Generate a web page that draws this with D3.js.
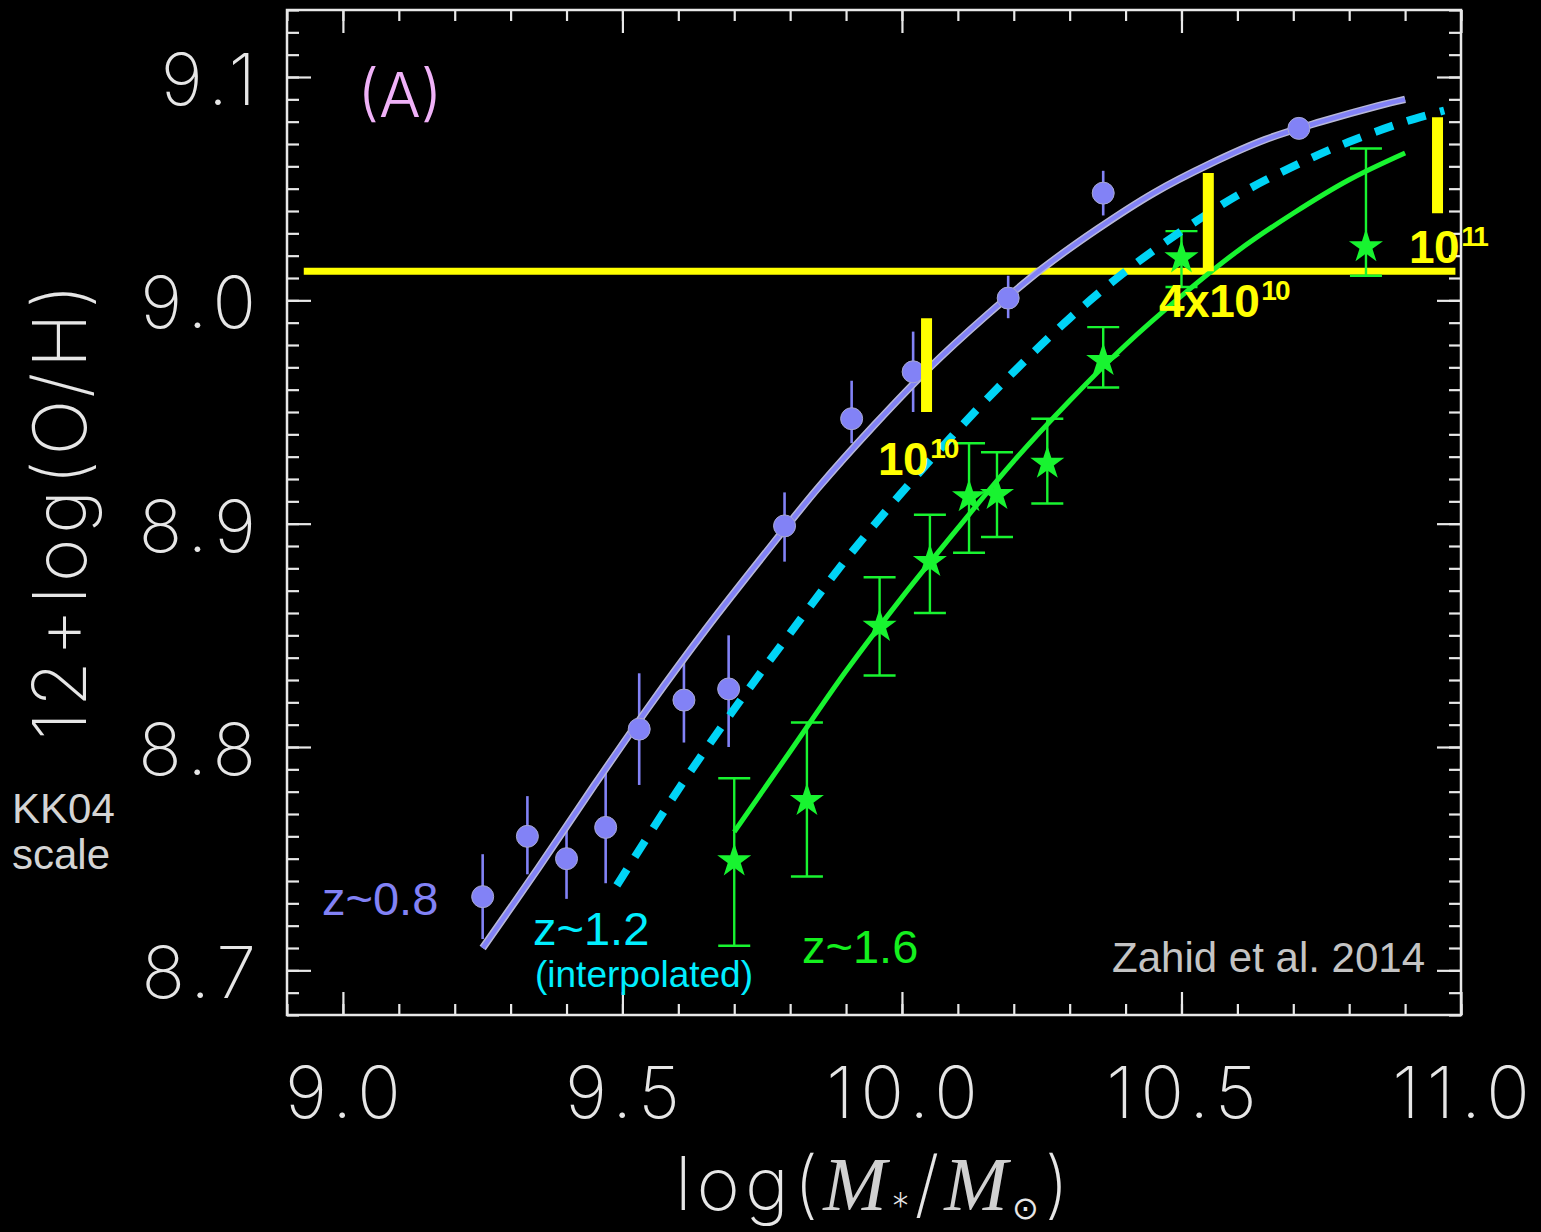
<!DOCTYPE html>
<html>
<head>
<meta charset="utf-8">
<script src="https://cdn.jsdelivr.net/npm/d3@7"></script>
<style>
  html, body { margin: 0; padding: 0; background: #000; }
  svg { display: block; }
  .thin { font-family: "Inter", "DejaVu Sans", sans-serif; font-weight: 200; fill: #e6e6e6; }
  .arial { font-family: "Liberation Sans", Arial, sans-serif; }
</style>
</head>
<body>
<svg id="chart" width="1541" height="1232"></svg>
<script>
// ---- z~0.8 binned measurements (DEEP2) ----
const massZ08 = [9.25, 9.33, 9.40, 9.47, 9.53, 9.61, 9.69, 9.79, 9.91, 10.02, 10.19, 10.36, 10.71];
const ohZ08   = [8.733, 8.760, 8.750, 8.764, 8.808, 8.821, 8.826, 8.899, 8.947, 8.968, 9.001, 9.048, 9.077];
const ohZ08Lo = [8.714, 8.743, 8.732, 8.739, 8.783, 8.802, 8.800, 8.883, 8.936, 8.950, 8.992, 9.038, 9.073];
const ohZ08Hi = [8.752, 8.778, 8.763, 8.789, 8.833, 8.838, 8.850, 8.914, 8.964, 8.986, 9.011, 9.058, 9.081];

// ---- z~1.6 binned measurements (FMOS) ----
const massZ16 = [9.70, 9.83, 9.96, 10.05, 10.12, 10.17, 10.26, 10.36, 10.50, 10.83];
const ohZ16   = [8.749, 8.776, 8.854, 8.883, 8.912, 8.913, 8.927, 8.973, 9.019, 9.024];
const ohZ16Lo = [8.711, 8.742, 8.832, 8.860, 8.887, 8.894, 8.909, 8.961, 9.006, 9.011];
const ohZ16Hi = [8.786, 8.811, 8.876, 8.904, 8.936, 8.932, 8.947, 8.988, 9.031, 9.068];

// ---- fitted mass-metallicity relations ----
const fitMassZ08 = [9.25, 9.35, 9.45, 9.55, 9.65, 9.75, 9.85, 9.95, 10.05, 10.15, 10.25, 10.35, 10.45, 10.55, 10.65, 10.75, 10.85, 10.90];
const fitOHZ08   = [8.710, 8.746, 8.783, 8.819, 8.853, 8.885, 8.916, 8.944, 8.970, 8.993, 9.014, 9.032, 9.048, 9.061, 9.072, 9.080, 9.087, 9.090];

const fitMassZ12 = [9.49, 9.60, 9.70, 9.80, 9.90, 10.00, 10.10, 10.20, 10.30, 10.40, 10.50, 10.60, 10.70, 10.80, 10.90, 10.97];
const fitOHZ12   = [8.738, 8.781, 8.817, 8.851, 8.884, 8.914, 8.942, 8.968, 8.992, 9.013, 9.031, 9.047, 9.060, 9.071, 9.080, 9.085];

const fitMassZ16 = [9.70, 9.80, 9.90, 10.00, 10.10, 10.20, 10.30, 10.40, 10.50, 10.60, 10.70, 10.80, 10.90];
const fitOHZ16   = [8.762, 8.798, 8.834, 8.867, 8.898, 8.928, 8.955, 8.980, 9.002, 9.022, 9.039, 9.054, 9.066];

// ---- reference level and mass markers ----
const threshold = 9.013;
const thresholdMass = [8.93, 10.99];
const markerMass = [10.044, 10.548, 10.958];
const markerLo   = [8.950, 9.013, 9.039];
const markerHi   = [8.992, 9.057, 9.082];
const markerBase = ["10", "4x10", "10"];
const markerExp  = ["10", "10", "11"];

// ---- axis ticks ----
const xMajor = [9.0, 9.5, 10.0, 10.5, 11.0];
const xMinor = d3.range(89, 111).map(v => v / 10);
const xTickLabels = ["9.0", "9.5", "10.0", "10.5", "11.0"];
const yMajor = [8.7, 8.8, 8.9, 9.0, 9.1];
const yMinor = d3.range(868, 914).map(v => v / 100);
const yTickLabels = ["8.7", "8.8", "8.9", "9.0", "9.1"];

// ---- colours ----
const C_Z08 = "#8282f6";
const C_Z12 = "#00d4f6";
const C_Z16 = "#18f430";
const C_YEL = "#ffff00";

const svg = d3.select("#chart");
svg.append("rect").attr("width", 1541).attr("height", 1232).attr("fill", "#000");

const L = 287, R = 1461, T = 10, B = 1015;
const x = d3.scaleLinear().domain([8.9, 11.0]).range([L, R]);
const y = d3.scaleLinear().domain([8.68, 9.13]).range([B, T]);

// ---- axes: inward ticks on all four sides ----
const axisColor = "#e8e8e8";
function styleAxis(g) {
  g.select(".domain").remove();
  g.selectAll(".tick line").attr("stroke", axisColor).attr("stroke-width", 2.2);
}
const fmtX = d => xTickLabels[xMajor.indexOf(d)];
const fmtY = d => yTickLabels[yMajor.indexOf(d)];

svg.append("g").attr("transform", `translate(0,${B})`)
  .call(d3.axisBottom(x).tickValues(xMinor).tickSize(-11).tickFormat(""))
  .call(styleAxis);
const gxb = svg.append("g").attr("transform", `translate(0,${B})`)
  .call(d3.axisBottom(x).tickValues(xMajor).tickSize(-23).tickPadding(52).tickFormat(fmtX))
  .call(styleAxis);
gxb.selectAll("text").attr("class", "thin").attr("font-size", 72)
  .attr("dx", 3).style("letter-spacing", "7px");

svg.append("g").attr("transform", `translate(0,${T})`)
  .call(d3.axisTop(x).tickValues(xMinor).tickSize(-11).tickFormat("")).call(styleAxis);
svg.append("g").attr("transform", `translate(0,${T})`)
  .call(d3.axisTop(x).tickValues(xMajor).tickSize(-23).tickFormat("")).call(styleAxis);

svg.append("g").attr("transform", `translate(${L},0)`)
  .call(d3.axisLeft(y).tickValues(yMinor).tickSize(-12).tickFormat("")).call(styleAxis);
const gyl = svg.append("g").attr("transform", `translate(${L},0)`)
  .call(d3.axisLeft(y).tickValues(yMajor).tickSize(-24).tickPadding(24).tickFormat(fmtY))
  .call(styleAxis);
gyl.selectAll("text").attr("class", "thin").attr("font-size", 72)
  .attr("dy", "0.38em").style("letter-spacing", "7px");

svg.append("g").attr("transform", `translate(${R},0)`)
  .call(d3.axisRight(y).tickValues(yMinor).tickSize(-12).tickFormat("")).call(styleAxis);
svg.append("g").attr("transform", `translate(${R},0)`)
  .call(d3.axisRight(y).tickValues(yMajor).tickSize(-24).tickFormat("")).call(styleAxis);

svg.append("rect").attr("x", L).attr("y", T).attr("width", R - L).attr("height", B - T)
  .attr("fill", "none").attr("stroke", axisColor).attr("stroke-width", 2.5);

// ---- axis titles ----
svg.append("text").attr("class", "thin")
  .attr("transform", "translate(86,512) rotate(-90)")
  .attr("text-anchor", "middle").attr("font-size", 74)
  .attr("textLength", 456).attr("lengthAdjust", "spacing")
  .text("12+log(O/H)");

const serif = "'Liberation Serif', 'DejaVu Serif', serif";
const xt = svg.append("text").attr("class", "thin")
  .attr("x", 872).attr("y", 1210).attr("text-anchor", "middle").attr("font-size", 74)
  .attr("textLength", 394).attr("lengthAdjust", "spacing");
xt.append("tspan").text("log(");
xt.append("tspan").attr("font-family", serif).attr("font-style", "italic")
  .attr("font-size", 76).style("fill", "#d0d0d0").text("M");
xt.append("tspan").attr("font-size", 36).attr("dy", 9).text("*");
xt.append("tspan").attr("dy", -9).text("/");
xt.append("tspan").attr("font-family", serif).attr("font-style", "italic")
  .attr("font-size", 76).style("fill", "#d0d0d0").text("M");
xt.append("tspan").attr("font-size", 32).attr("dy", 9)
  .attr("font-family", "'DejaVu Sans', sans-serif").text("\u2299");
xt.append("tspan").attr("dy", -9).text(")");

// ---- yellow reference level ----
svg.append("line")
  .attr("x1", x(thresholdMass[0])).attr("x2", x(thresholdMass[1]))
  .attr("y1", y(threshold)).attr("y2", y(threshold))
  .attr("stroke", C_YEL).attr("stroke-width", 7);

// ---- error bars ----
const gErr08 = svg.append("g");
massZ08.forEach((m, i) => {
  gErr08.append("line").attr("x1", x(m)).attr("x2", x(m))
    .attr("y1", y(ohZ08Lo[i])).attr("y2", y(ohZ08Hi[i]))
    .attr("stroke", C_Z08).attr("stroke-width", 2.6);
});
const gErr16 = svg.append("g");
const capW = 16;
massZ16.forEach((m, i) => {
  const cx = x(m), y0 = y(ohZ16Lo[i]), y1 = y(ohZ16Hi[i]);
  gErr16.append("line").attr("x1", cx).attr("x2", cx).attr("y1", y0).attr("y2", y1)
    .attr("stroke", C_Z16).attr("stroke-width", 2.4);
  [y0, y1].forEach(yy => gErr16.append("line")
    .attr("x1", cx - capW).attr("x2", cx + capW).attr("y1", yy).attr("y2", yy)
    .attr("stroke", C_Z16).attr("stroke-width", 2.4));
});

// ---- fitted curves ----
const line = d3.line().x(d => x(d[0])).y(d => y(d[1])).curve(d3.curveCatmullRom);
svg.append("path").datum(d3.zip(fitMassZ08, fitOHZ08)).attr("d", line)
  .attr("fill", "none").attr("stroke", "#b8b8d8").attr("stroke-width", 7.5);
svg.append("path").datum(d3.zip(fitMassZ08, fitOHZ08)).attr("d", line)
  .attr("fill", "none").attr("stroke", C_Z08).attr("stroke-width", 4.5);
svg.append("path").datum(d3.zip(fitMassZ12, fitOHZ12)).attr("d", line)
  .attr("fill", "none").attr("stroke", C_Z12).attr("stroke-width", 8)
  .attr("stroke-dasharray", "19 15");
svg.append("path").datum(d3.zip(fitMassZ16, fitOHZ16)).attr("d", line)
  .attr("fill", "none").attr("stroke", C_Z16).attr("stroke-width", 5);

// ---- markers ----
svg.append("g").selectAll("circle").data(d3.zip(massZ08, ohZ08)).join("circle")
  .attr("cx", d => x(d[0])).attr("cy", d => y(d[1])).attr("r", 11)
  .attr("fill", C_Z08).attr("stroke", "#a8a8d0").attr("stroke-width", 1);
const star = d3.symbol(d3.symbolStar, 360);
svg.append("g").selectAll("path").data(d3.zip(massZ16, ohZ16)).join("path")
  .attr("d", star).attr("transform", d => `translate(${x(d[0])},${y(d[1])})`)
  .attr("fill", C_Z16);

// ---- yellow mass markers ----
markerMass.forEach((m, i) => {
  svg.append("line").attr("x1", x(m)).attr("x2", x(m))
    .attr("y1", y(markerLo[i])).attr("y2", y(markerHi[i]))
    .attr("stroke", C_YEL).attr("stroke-width", 11);
});
const markerLabelPos = [[878, 475], [1159, 317], [1409, 263]];
markerLabelPos.forEach((p, i) => {
  const t = svg.append("text").attr("class", "arial").attr("x", p[0]).attr("y", p[1])
    .attr("fill", C_YEL).attr("font-weight", "bold").attr("font-size", 46)
    .style("letter-spacing", "-0.5px");
  t.append("tspan").text(markerBase[i]);
  t.append("tspan").attr("font-size", 28).attr("dy", -17).attr("dx", 2)
    .style("letter-spacing", "-2px").text(markerExp[i]);
});

// ---- annotations ----
svg.append("text").attr("class", "thin").attr("x", 400).attr("y", 117)
  .attr("text-anchor", "middle").attr("font-size", 62)
  .style("fill", "#f0b2f8").style("font-weight", 300).text("(A)");

function label(txt, px, py, size, color, anchor) {
  svg.append("text").attr("class", "arial").attr("x", px).attr("y", py)
    .attr("font-size", size).attr("fill", color).attr("text-anchor", anchor || "start").text(txt);
}
label("z~0.8", 322, 915, 47, C_Z08);
label("z~1.2", 533, 945, 47, "#00eeff");
label("(interpolated)", 535, 987, 37, "#00eeff");
label("z~1.6", 802, 963, 47, "#14f01e");
label("Zahid et al. 2014", 1425, 972, 42, "#c4c4c4", "end");
label("KK04", 12, 823, 42, "#d4d4d4");
label("scale", 12, 869, 42, "#d4d4d4");
</script>
</body>
</html>
